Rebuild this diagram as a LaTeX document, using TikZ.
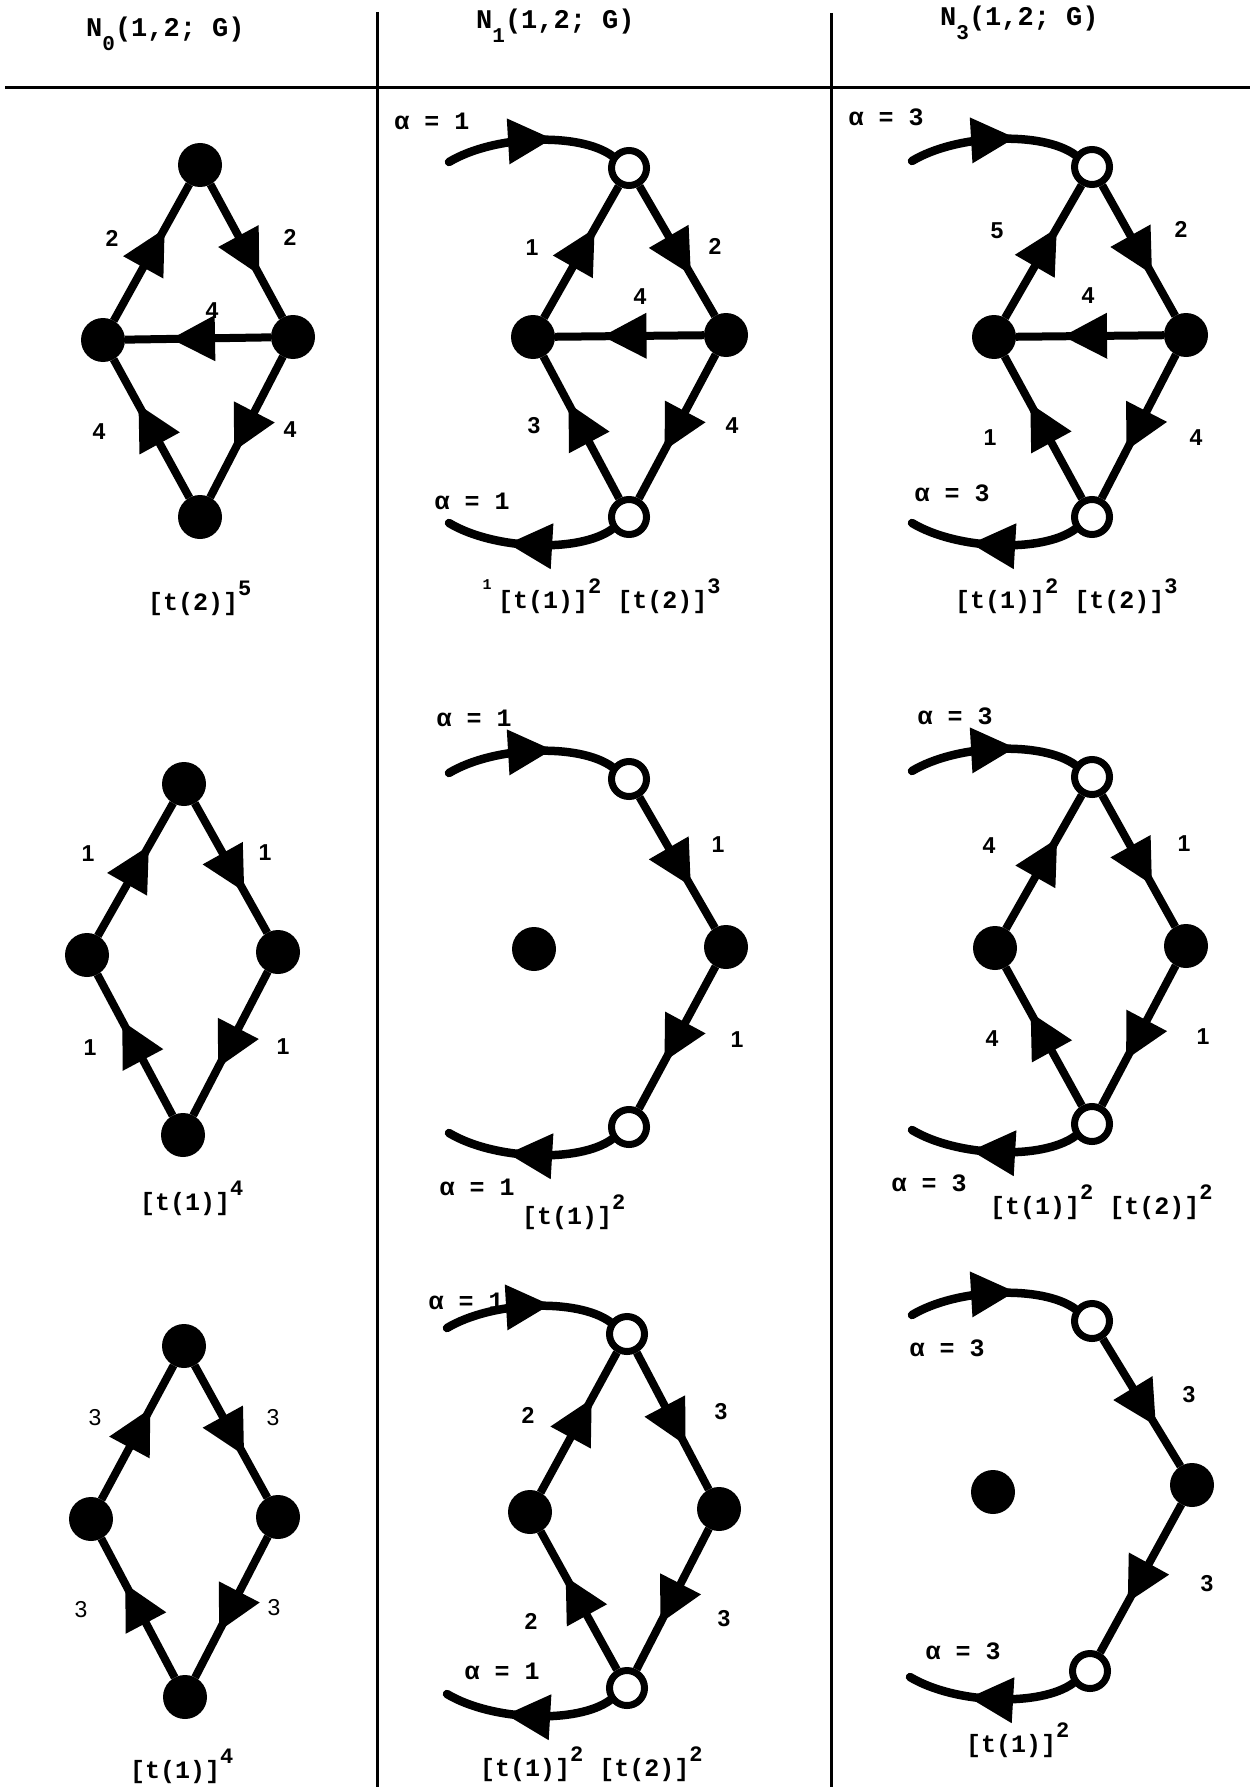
\documentclass[tikz,border=0pt]{standalone}
\usepackage{fontspec}
\usetikzlibrary{decorations.markings,calc}
\newfontfamily\monofam{Liberation Mono}
\newfontfamily\sansfam{Liberation Sans}

% N_k(1,2; G) heading with a lowered index
\newcommand\hdr[1]{N\raisebox{-14pt}{\fontsize{21}{21}\selectfont #1}(1,2; G)}
% a bracket factor with its exponent
\newcommand\pw[2]{#1\raisebox{15pt}{\fontsize{22}{22}\selectfont #2}}
% incoming arc ending at an open vertex, outgoing arc leaving one
\newcommand\inarc[2]{\draw[flowarc] (#1) .. controls ($(#2)+(-135,-33)$) and ($(#2)+(-50,-36)$) .. (#2);}
\newcommand\outarc[2]{\draw[flowarc] (#1) .. controls ($(#1)+(-50,36)$) and ($(#1)+(-135,33)$) .. (#2);}

\tikzset{
  fnode/.style={circle,fill=black,minimum size=44pt,inner sep=0pt,outer sep=0pt},
  onode/.style={circle,draw=black,fill=white,line width=7pt,minimum size=35pt,inner sep=0pt},
  arrowedge/.style={line width=8pt,postaction={decorate},
    decoration={markings,mark=at position 0.5 with {\fill (27pt,0pt) -- (-17pt,23pt) -- (-17pt,-23pt) -- cycle;}}},
  flowarc/.style={line width=8.5pt,line cap=round,postaction={decorate},
    decoration={markings,mark=at position 0.5 with {\fill (22pt,0pt) -- (-22pt,23pt) -- (-22pt,-23pt) -- cycle;}}},
  elab/.style={font=\sansfam\bfseries\fontsize{23}{23}\selectfont,inner sep=0pt},
  elabl/.style={font=\sansfam\fontsize{23}{23}\selectfont,inner sep=0pt},
  alab/.style={font=\monofam\bfseries\fontsize{25}{25}\selectfont,inner sep=0pt},
  captext/.style={font=\monofam\bfseries\fontsize{25}{25}\selectfont,inner sep=0pt,anchor=base west},
  hdrtext/.style={font=\monofam\bfseries\fontsize{27}{27}\selectfont,inner sep=0pt,anchor=base west},
  tablerule/.style={line width=3pt},
}

\begin{document}
\begin{tikzpicture}[x=1pt,y=-1pt]
\path[use as bounding box] (0,0) rectangle (1250,1787);

% table rules
\coordinate (hl) at (5,88);   \coordinate (hr) at (1250,88);
\coordinate (v1t) at (377,12); \coordinate (v1b) at (377,1787);
\coordinate (v2t) at (831,13); \coordinate (v2b) at (831,1787);
\draw[tablerule] (hl) -- (hr);
\draw[tablerule] (v1t) -- (v1b);
\draw[tablerule] (v2t) -- (v2b);

% column headings
\node[hdrtext] (h0) at (86,37) {\hdr{0}};
\node[hdrtext] (h1) at (476,29) {\hdr{1}};
\node[hdrtext] (h3) at (940,26) {\hdr{3}};

% ---------- row 1, column 1 ----------
\node[fnode] (a1t) at (200,165) {};
\node[fnode] (a1l) at (103,340) {};
\node[fnode] (a1r) at (293,337) {};
\node[fnode] (a1b) at (200,517) {};
\draw[arrowedge] (a1l) -- (a1t);
\draw[arrowedge] (a1t) -- (a1r);
\draw[arrowedge] (a1r) -- (a1l);
\draw[arrowedge] (a1b) -- (a1l);
\draw[arrowedge] (a1r) -- (a1b);
\node[elab] (a1e1) at (112,238) {2};
\node[elab] (a1e2) at (290,237) {2};
\node[elab] (a1e3) at (212,311) {4};
\node[elab] (a1e4) at (99,432) {4};
\node[elab] (a1e5) at (290,430) {4};
\node[captext] (a1c) at (148,610) {\pw{[t(2)]}{5}};

% ---------- row 1, column 2 ----------
\node[fnode] (b1l) at (533,337) {};
\node[fnode] (b1r) at (726,335) {};
\node[onode] (b1t) at (629,168) {};
\node[onode] (b1b) at (629,517) {};
\draw[arrowedge] (b1l) -- (b1t);
\draw[arrowedge] (b1t) -- (b1r);
\draw[arrowedge] (b1r) -- (b1l);
\draw[arrowedge] (b1b) -- (b1l);
\draw[arrowedge] (b1r) -- (b1b);
\coordinate (b1s) at (449,162);
\coordinate (b1f) at (449,523);
\inarc{b1s}{b1t}
\outarc{b1b}{b1f}
\node[elab] (b1e1) at (532,248) {1};
\node[elab] (b1e2) at (715,246) {2};
\node[elab] (b1e3) at (640,297) {4};
\node[elab] (b1e4) at (534,426) {3};
\node[elab] (b1e5) at (732,426) {4};
\node[alab] (b1a1) at (432,121) {α = 1};
\node[alab] (b1a2) at (472,501) {α = 1};
\node[font=\monofam\bfseries\fontsize{15}{15}\selectfont,inner sep=0pt] (b1m) at (487,585) {1};
\node[captext] (b1c) at (498,608) {\pw{[t(1)]}{2}\hspace{16pt}\pw{[t(2)]}{3}};

% ---------- row 1, column 3 ----------
\node[fnode] (c1l) at (994,337) {};
\node[fnode] (c1r) at (1186,335) {};
\node[onode] (c1t) at (1092,167) {};
\node[onode] (c1b) at (1092,517) {};
\draw[arrowedge] (c1l) -- (c1t);
\draw[arrowedge] (c1t) -- (c1r);
\draw[arrowedge] (c1r) -- (c1l);
\draw[arrowedge] (c1b) -- (c1l);
\draw[arrowedge] (c1r) -- (c1b);
\coordinate (c1s) at (912,161);
\coordinate (c1f) at (912,523);
\inarc{c1s}{c1t}
\outarc{c1b}{c1f}
\node[elab] (c1e1) at (997,231) {5};
\node[elab] (c1e2) at (1181,229) {2};
\node[elab] (c1e3) at (1088,296) {4};
\node[elab] (c1e4) at (990,438) {1};
\node[elab] (c1e5) at (1196,438) {4};
\node[alab] (c1a1) at (886,117) {α = 3};
\node[alab] (c1a2) at (952,493) {α = 3};
\node[captext] (c1c) at (955,608) {\pw{[t(1)]}{2}\hspace{16pt}\pw{[t(2)]}{3}};

% ---------- row 2, column 1 ----------
\node[fnode] (a2t) at (184,784) {};
\node[fnode] (a2l) at (87,955) {};
\node[fnode] (a2r) at (278,952) {};
\node[fnode] (a2b) at (183,1135) {};
\draw[arrowedge] (a2l) -- (a2t);
\draw[arrowedge] (a2t) -- (a2r);
\draw[arrowedge] (a2b) -- (a2l);
\draw[arrowedge] (a2r) -- (a2b);
\node[elab] (a2e1) at (88,854) {1};
\node[elab] (a2e2) at (265,853) {1};
\node[elab] (a2e3) at (90,1048) {1};
\node[elab] (a2e4) at (283,1047) {1};
\node[captext] (a2c) at (140,1210) {\pw{[t(1)]}{4}};

% ---------- row 2, column 2 ----------
\node[fnode] (b2i) at (534,949) {};
\node[fnode] (b2r) at (726,947) {};
\node[onode] (b2t) at (629,779) {};
\node[onode] (b2b) at (629,1127) {};
\draw[arrowedge] (b2t) -- (b2r);
\draw[arrowedge] (b2r) -- (b2b);
\coordinate (b2s) at (449,773);
\coordinate (b2f) at (449,1133);
\inarc{b2s}{b2t}
\outarc{b2b}{b2f}
\node[elab] (b2e1) at (718,845) {1};
\node[elab] (b2e2) at (737,1040) {1};
\node[alab] (b2a1) at (474,718) {α = 1};
\node[alab] (b2a2) at (477,1187) {α = 1};
\node[captext] (b2c) at (522,1224) {\pw{[t(1)]}{2}};

% ---------- row 2, column 3 ----------
\node[fnode] (c2l) at (995,948) {};
\node[fnode] (c2r) at (1186,946) {};
\node[onode] (c2t) at (1092,777) {};
\node[onode] (c2b) at (1092,1124) {};
\draw[arrowedge] (c2l) -- (c2t);
\draw[arrowedge] (c2t) -- (c2r);
\draw[arrowedge] (c2b) -- (c2l);
\draw[arrowedge] (c2r) -- (c2b);
\coordinate (c2s) at (912,771);
\coordinate (c2f) at (912,1130);
\inarc{c2s}{c2t}
\outarc{c2b}{c2f}
\node[elab] (c2e1) at (989,846) {4};
\node[elab] (c2e2) at (1184,844) {1};
\node[elab] (c2e3) at (992,1039) {4};
\node[elab] (c2e4) at (1203,1037) {1};
\node[alab] (c2a1) at (955,716) {α = 3};
\node[alab] (c2a2) at (929,1183) {α = 3};
\node[captext] (c2c) at (990,1214) {\pw{[t(1)]}{2}\hspace{16pt}\pw{[t(2)]}{2}};

% ---------- row 3, column 1 ----------
\node[fnode] (a3t) at (184,1346) {};
\node[fnode] (a3l) at (91,1519) {};
\node[fnode] (a3r) at (278,1517) {};
\node[fnode] (a3b) at (185,1697) {};
\draw[arrowedge] (a3l) -- (a3t);
\draw[arrowedge] (a3t) -- (a3r);
\draw[arrowedge] (a3b) -- (a3l);
\draw[arrowedge] (a3r) -- (a3b);
\node[elabl] (a3e1) at (95,1418) {3};
\node[elabl] (a3e2) at (273,1418) {3};
\node[elabl] (a3e3) at (81,1610) {3};
\node[elabl] (a3e4) at (274,1608) {3};
\node[captext] (a3c) at (130,1778) {\pw{[t(1)]}{4}};

% ---------- row 3, column 2 ----------
\node[fnode] (b3l) at (530,1512) {};
\node[fnode] (b3r) at (719,1509) {};
\node[onode] (b3t) at (627,1334) {};
\node[onode] (b3b) at (627,1688) {};
\draw[arrowedge] (b3l) -- (b3t);
\draw[arrowedge] (b3t) -- (b3r);
\draw[arrowedge] (b3b) -- (b3l);
\draw[arrowedge] (b3r) -- (b3b);
\coordinate (b3s) at (447,1328);
\coordinate (b3f) at (447,1694);
\inarc{b3s}{b3t}
\outarc{b3b}{b3f}
\node[elab] (b3e1) at (528,1415) {2};
\node[elab] (b3e2) at (721,1412) {3};
\node[elab] (b3e3) at (531,1621) {2};
\node[elab] (b3e4) at (724,1619) {3};
\node[alab] (b3a1) at (466,1301) {α = 1};
\node[alab] (b3a2) at (502,1671) {α = 1};
\node[captext] (b3c) at (480,1776) {\pw{[t(1)]}{2}\hspace{16pt}\pw{[t(2)]}{2}};

% ---------- row 3, column 3 ----------
\node[fnode] (c3i) at (993,1492) {};
\node[fnode] (c3r) at (1192,1485) {};
\node[onode] (c3t) at (1092,1321) {};
\node[onode] (c3b) at (1090,1671) {};
\draw[arrowedge] (c3t) -- (c3r);
\draw[arrowedge] (c3r) -- (c3b);
\coordinate (c3s) at (912,1315);
\coordinate (c3f) at (910,1677);
\inarc{c3s}{c3t}
\outarc{c3b}{c3f}
\node[elab] (c3e1) at (1189,1395) {3};
\node[elab] (c3e2) at (1207,1584) {3};
\node[alab] (c3a1) at (947,1348) {α = 3};
\node[alab] (c3a2) at (963,1651) {α = 3};
\node[captext] (c3c) at (966,1752) {\pw{[t(1)]}{2}};
\end{tikzpicture}
\end{document}
